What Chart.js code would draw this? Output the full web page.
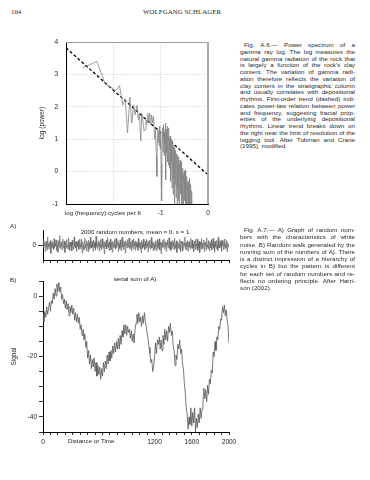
<!DOCTYPE html>
<html><head><meta charset="utf-8">
<script src="https://cdn.jsdelivr.net/npm/chart.js@4.4.1/dist/chart.umd.min.js"></script>
<style>
html,body{margin:0;padding:0;background:#fff;}
body{width:370px;height:480px;position:relative;overflow:hidden;font-family:'Liberation Sans',Arial,sans-serif;color:#222;-webkit-font-smoothing:antialiased;}
.abs{position:absolute;white-space:nowrap;line-height:1;}
canvas{position:absolute;}
.serif{font-family:'Liberation Serif','DejaVu Serif',serif;font-size:6.8px;color:#222;}
.lbl{font-size:6.2px;color:#222;}
.cap{position:absolute;left:240px;width:115px;font-size:6.25px;color:#2a2a2a;}
.cap div{text-align:justify;text-align-last:justify;white-space:nowrap;overflow:visible;}
.cap div.last{text-align:left;text-align-last:left;}
.cap div.first{padding-left:4px;}
</style>
</head><body>
<div class="abs serif" style="left:11px;top:9px;">164</div>
<div class="abs serif" style="left:143px;top:9px;letter-spacing:0.1px;">WOLFGANG SCHLAGER</div>

<canvas id="c1" width="195" height="195" style="left:30px;top:30px;"></canvas>
<div class="abs lbl" style="left:65px;top:210px;">log (frequency) cycles per ft</div>

<div class="cap" id="cap1" style="top:42px;line-height:6.75px;"></div>

<div class="abs lbl" style="left:10px;top:223px;">A)</div>
<canvas id="c2" width="245" height="48" style="left:0px;top:220px;"></canvas>
<div class="abs lbl" style="left:135px;top:229px;transform:translateX(-50%);">2000 random numbers, mean = 0, s = 1</div>

<div class="cap" id="cap2" style="top:226px;line-height:7.3px;"></div>

<div class="abs lbl" style="left:10px;top:277px;">B)</div>
<div class="abs lbl" style="left:135px;top:276px;transform:translateX(-50%);">serial sum of A)</div>
<canvas id="c3" width="245" height="180" style="left:0px;top:270px;"></canvas>
<div class="abs lbl" style="left:68px;top:438px;">Distance or Time</div>

<script>
// ---------- captions ----------
const caption1 = [
"Fig. A.6.\u2014 Power spectrum of a",
"gamma ray log. The log measures the",
"natural gamma radiation of the rock that",
"is largely a function of the rock's clay",
"content. The variation of gamma radi-",
"ation therefore reflects the variation of",
"clay content in the stratigraphic column",
"and usually correlates with depositional",
"rhythms. First-order trend (dashed) indi-",
"cates power-law relation between power",
"and frequency, suggesting fractal prop-",
"erties of the underlying depositional",
"rhythms. Linear trend breaks down on",
"the right near the limit of resolution of the",
"logging tool. After Tubman and Crane",
"(1995), modified."];
const caption2 = [
"Fig. A.7.\u2014 A) Graph of random num-",
"bers with the characteristics of white",
"noise. B) Random walk generated by the",
"running sum of the numbers of A). There",
"is a distinct impression of a hierarchy of",
"cycles in B) but the pattern is different",
"for each set of random numbers and re-",
"flects no ordering principle. After Harri-",
"son (2002)."];
function fillCap(id, lines){
  const el = document.getElementById(id);
  lines.forEach((t,i)=>{const d=document.createElement('div');d.textContent=t;
    if(i===0)d.className='first'; if(i===lines.length-1)d.className='last'; el.appendChild(d);});
}
fillCap('cap1',caption1); fillCap('cap2',caption2);

// ---------- data: Fig A.6 power spectrum (log frequency, log power) ----------
const spectrum = [
[-2.65,3.2],[-2.35,3.4],[-2.17,2.7],[-2.05,2.6],[-1.95,2.5],[-1.87,2.65],[-1.80,2.05],[-1.75,2.25],[-1.70,1.2],[-1.65,2.3],
[-1.61,1.5],[-1.57,2.05],[-1.54,1.75],[-1.50,2.05],[-1.47,1.6],[-1.45,1.8],[-1.42,0.95],[-1.40,1.8],[-1.37,1.5],[-1.35,1.25],
[-1.33,1.3],[-1.31,1.6],[-1.29,1.45],[-1.27,1.8],[-1.25,1.55],[-1.23,1.8],[-1.21,1.45],[-1.19,1.75],[-1.17,1.5],[-1.15,1.7],
[-1.13,1.0],[-1.11,1.3],[-1.09,0.45],[-1.08,-0.15],[-1.07,1.1],[-1.06,1.35],[-1.05,0.9],[-1.04,1.2],[-1.03,0.8],[-1.02,1.4],
[-1.01,0.7],[-1.00,1.25],[-0.99,0.2],[-0.98,-0.9],[-0.97,1.0],[-0.96,1.35],[-0.95,0.6],[-0.945,1.15],[-0.94,0.9],[-0.93,1.45],
[-0.925,0.5],[-0.92,1.2],[-0.91,0.85],[-0.905,1.3],[-0.90,0.7],[-0.895,1.5],[-0.89,-0.25],[-0.885,1.0],[-0.88,1.3],[-0.875,0.6],
[-0.87,1.1],[-0.865,0.8],[-0.86,1.4],[-0.855,0.3],[-0.85,1.0],[-0.845,0.65],[-0.84,1.2],[-0.835,0.2],[-0.83,0.9],[-0.825,1.35],
[-0.82,0.5],[-0.815,0.95],[-0.81,0.1],[-0.805,0.8],[-0.80,1.1],[-0.795,0.4],[-0.79,0.9],[-0.785,-0.3],[-0.78,0.7],[-0.775,1.0],
[-0.77,0.3],[-0.765,0.85],[-0.76,-0.5],[-0.755,0.6],[-0.75,0.95],[-0.745,0.1],[-0.74,0.7],[-0.735,-0.7],[-0.73,0.5],[-0.725,0.8],
[-0.72,-0.2],[-0.715,0.6],[-0.71,-1.0],[-0.705,0.4],[-0.70,0.75],[-0.695,-0.4],[-0.69,0.5],[-0.685,0.1],[-0.68,0.65],[-0.675,-0.8],
[-0.67,0.3],[-0.665,0.55],[-0.66,-0.3],[-0.655,0.45],[-0.65,-1.1],[-0.645,0.2],[-0.64,0.5],[-0.635,-0.5],[-0.63,0.3],[-0.625,-0.9],
[-0.62,0.1],[-0.615,0.45],[-0.61,-0.6],[-0.605,0.2],[-0.60,-1.1],[-0.595,0.0],[-0.59,0.35],[-0.585,-0.7],[-0.58,0.1],[-0.575,-0.3],
[-0.57,0.3],[-0.565,-1.0],[-0.56,-0.1],[-0.555,0.2],[-0.55,-0.8],[-0.545,0.0],[-0.54,-1.1],[-0.535,-0.2],[-0.53,0.1],[-0.525,-0.6],
[-0.52,-0.1],[-0.515,-1.1],[-0.51,-0.3],[-0.505,0.0],[-0.50,-0.9],[-0.495,-0.2],[-0.49,-0.6],[-0.485,0.05],[-0.48,-1.1],[-0.475,-0.4],
[-0.47,-0.1],[-0.465,-0.8],[-0.46,-0.3],[-0.455,-1.1],[-0.45,-0.5],[-0.445,-0.15],[-0.44,-0.9],[-0.435,-0.4],[-0.43,-1.1],[-0.425,-0.6],
[-0.42,-0.3],[-0.415,-1.0],[-0.41,-0.5],[-0.405,-0.8],[-0.40,-0.35],[-0.395,-1.1],[-0.39,-0.6],[-0.385,-0.2],[-0.38,-0.9],[-0.375,-0.5],
[-0.37,-1.1],[-0.365,-0.7],[-0.36,-0.4],[-0.355,-1.0],[-0.35,-0.6],[-0.345,-1.1],[-0.34,-0.8],[-0.335,-1.2]];
const trendLogFreq = [-3, 0];
const trendLogPower = [3.82, -0.1];
const specXTickLabels = {"-1":"-1","0":"0"};

// ---------- data: Fig A.7 A) random numbers (sampled every 5) ----------
const noiseStep = 5;
const noise = [
0.6,-1.1,1.9,-0.4,0.8,-2.2,0.3,1.3,-0.9,-1.7,2.6,-0.6,0.4,-1.3,1.0,-0.2,1.5,-2.8,0.7,-0.5,
-1.0,1.2,0.1,-1.5,2.1,-0.8,0.5,-0.3,1.7,-1.9,0.9,-0.1,-2.4,1.4,0.2,-0.7,3.1,-1.2,0.6,-0.4,
1.1,-1.6,0.3,2.0,-0.9,-0.2,1.3,-2.5,0.8,0.4,-1.1,1.8,-0.6,0.0,-1.4,2.3,-0.3,0.7,-1.8,1.0,
-0.5,0.9,-2.0,1.6,0.2,-0.8,-1.3,2.7,-0.4,0.5,-1.0,1.2,-2.2,0.3,0.9,-0.6,1.5,-1.5,0.1,2.0,
-1.2,0.4,-0.7,1.9,-2.6,0.6,1.1,-0.3,-1.6,0.8,2.2,-0.9,0.3,-1.9,1.4,-0.1,0.7,-2.3,1.6,-0.4,
0.9,-1.4,2.5,-0.7,0.1,-1.0,1.3,-0.5,-2.1,1.7,0.4,-0.8,1.0,-1.7,2.9,-0.6,0.2,-1.2,0.8,-0.3,
1.4,-2.0,0.6,-0.9,1.8,-0.2,-1.5,2.1,-0.7,0.5,-1.1,1.2,-3.0,0.9,0.3,-0.6,1.6,-1.3,0.0,2.4,
-0.8,0.7,-1.8,1.1,-0.4,2.0,-1.6,0.2,0.9,-2.4,1.3,-0.5,0.6,-1.0,1.9,-0.3,-1.4,2.2,-0.9,0.4,
-0.2,1.5,-2.1,0.8,0.3,-1.2,1.7,-0.6,-1.9,1.0,2.6,-0.8,0.1,-1.5,1.2,-0.4,0.9,-2.7,1.4,-0.1,
0.5,-1.0,1.8,-0.7,-0.3,2.3,-1.4,0.6,-0.9,1.1,-2.0,0.4,1.6,-0.5,-1.3,2.0,-0.2,0.8,-1.7,1.3,
-0.7,1.1,-0.3,0.6,-1.8,2.2,-0.9,0.2,1.0,-1.3,0.5,-2.6,1.5,-0.4,0.8,-1.1,2.0,-0.6,0.3,-1.6,
1.2,-0.2,-1.0,1.9,-0.5,0.7,-2.3,1.3,0.1,-0.8,1.6,-1.4,0.4,2.5,-1.0,-0.3,1.1,-1.9,0.6,-0.1,
-1.5,0.9,1.4,-0.6,-2.0,0.3,1.8,-1.2,0.5,-0.4,2.1,-1.7,0.0,1.0,-2.9,0.7,-0.2,1.5,-0.8,0.4,
2.0,-1.3,0.6,-0.5,1.2,-2.1,0.8,-0.1,1.7,-1.0,-0.6,2.4,-1.5,0.3,0.9,-1.8,1.1,-0.4,-1.2,1.6,
-0.3,0.8,-1.6,2.3,-0.7,0.2,-1.1,1.4,-2.5,0.6,1.0,-0.9,0.4,-1.4,1.9,-0.2,-2.2,1.2,0.5,-0.6,
1.3,-1.9,0.1,0.8,-0.4,2.7,-1.2,0.6,-1.7,1.0,-0.5,1.5,-2.0,0.2,1.1,-0.8,0.5,-1.3,2.2,-0.9,
-0.1,1.6,-1.1,0.4,-2.3,1.2,0.7,-0.6,1.9,-1.5,0.3,-0.2,2.0,-1.8,0.6,-1.0,1.3,-2.6,0.9,0.1,
-1.4,2.1,-0.5,0.7,-1.2,0.3,1.7,-2.2,0.8,-0.3,1.0,-1.6,2.4,-0.7,0.2,-1.3,1.5,-0.4,-2.0,1.1,
0.6,-0.9,1.8,-1.7,0.4,-0.1,2.2,-1.1,0.5,-2.4,1.3,-0.6,0.9,-1.2,1.6,-0.3,-1.8,2.6,-0.8,0.2,
-1.0,1.4,-0.4,0.9,-2.1,1.7,-0.2,0.6,-1.5,1.2,-0.7,2.0,-1.3,0.3,-0.9,1.5,-2.2,0.7,0.1,-0.5];

// ---------- data: Fig A.7 B) serial sum (sampled every 10) ----------
const walkStep = 10;
const walk = [
-6,-8.5,-5,-7,-3.5,-6,-4,-2,-5,-1.5,-2.5,1,-1,2.5,0,4,1.5,4.5,1.5,3,
-1,0.5,-2.5,-1,-4,-1.5,-4.5,-2.5,-6.5,-3.5,-5.5,-3,-6,-4,-8,-5.5,-8.5,-6,-9,-7,
-11,-9.5,-13,-11,-14.5,-12.5,-17,-15,-20.5,-18,-22.5,-19.5,-24,-21,-23.5,-20.5,-25,-22,-26.5,-23,
-26,-23.5,-27.5,-24,-26.5,-22,-25,-21.5,-24,-19.5,-22.5,-18.5,-21.5,-18,-20.5,-16.5,-19,-15.5,-18.5,-15,
-17.5,-14,-17.5,-13,-16,-11.5,-13.5,-9.5,-12.5,-9.5,-13,-10,-12,-11,-14,-11.5,-15,-12.5,-15.5,-11,
-9,-6,-9,-5.5,-8.5,-7,-10,-6.5,-9,-5.5,-8.5,-10,-12.5,-14,-17,-19,-22,-21,-25,-23.5,
-20,-15.5,-19,-14.5,-16,-13.5,-17.5,-14.5,-18,-13,-16,-11,-14.5,-11.5,-15,-10,-12,-9,-13,-11.5,
-16.5,-18,-23,-19.5,-21,-16,-17.5,-14.5,-19,-17.5,-22.5,-24,-29,-32,-37,-39,-44,-40,-42.5,-37,
-43,-38.5,-42,-37,-45,-40.5,-43.5,-39,-42,-37,-40.5,-37.5,-35,-30.5,-34,-31,-35,-29.5,-32.5,-27.5,
-29,-24.5,-25.5,-18.5,-20,-15,-18,-13.5,-14.5,-10,-11,-7.5,-8,-3.5,-5.5,-3,-6.5,-4.5,-8,-10,
-15.5];
const xLabelsB = [0, 1200, 1600, 2000];
const yLabelsB = [0, -20, -40];

// ---------- common helpers ----------
const FONT = {family:"'Liberation Sans', Arial, sans-serif", size:6.5};
Chart.defaults.font.family = FONT.family;
Chart.defaults.color = '#222';
function fixY(w){return s=>{s.width=w;s.paddingTop=0;s.paddingBottom=0;};}
function fixX(h){return s=>{s.height=h;s.paddingLeft=0;s.paddingRight=0;};}

const framePlugin = {id:'frame', afterDatasetsDraw(chart){
  const {ctx, chartArea:a} = chart;
  ctx.save();
  ctx.strokeStyle='#9a9a9a'; ctx.lineWidth=1;
  ctx.beginPath(); ctx.moveTo(a.left,a.top+0.5); ctx.lineTo(a.right,a.top+0.5); ctx.stroke();
  ctx.strokeStyle='#aaa'; ctx.lineWidth=2;
  ctx.beginPath(); ctx.moveTo(a.right,a.top); ctx.lineTo(a.right,a.bottom); ctx.stroke();
  ctx.restore();
}};

// ---------- Chart 1 ----------
new Chart(document.getElementById('c1'), {
  type:'line',
  data:{datasets:[
    {data: spectrum.map(p=>({x:p[0],y:p[1]})), borderColor:'#858585', borderWidth:0.8, pointRadius:0, tension:0},
    {data: trendLogFreq.map((x,i)=>({x, y:trendLogPower[i]})), borderColor:'#000', borderWidth:1.3, borderDash:[3,2.2], pointRadius:0}
  ]},
  options:{
    responsive:false, animation:false, devicePixelRatio:1,
    layout:{padding:{left:0,right:17,top:12,bottom:0}},
    plugins:{legend:{display:false},tooltip:{enabled:false}},
    scales:{
      x:{type:'linear',min:-3,max:0,afterFit:fixX(21),
        ticks:{stepSize:1,padding:5,font:FONT,color:'#222',maxRotation:0,autoSkip:false,
          callback:v=>specXTickLabels[String(v)]||''},
        grid:{drawTicks:false,lineWidth:0.8,color:c=>(c.tick&&(c.tick.value===-2||c.tick.value===-1))?'#c4c4c4':'rgba(0,0,0,0)'},
        border:{display:true,color:'#000',width:1,dash:[1,1.5]}},
      y:{type:'linear',min:-1,max:4,afterFit:fixY(36),
        ticks:{stepSize:1,padding:8,font:FONT,color:'#222'},
        title:{display:true,text:'log (power)',font:FONT,color:'#222',padding:{top:8,bottom:0}},
        grid:{drawTicks:false,lineWidth:0.8,color:c=>(c.tick&&c.tick.value>=0&&c.tick.value<=3)?'#c4c4c4':'rgba(0,0,0,0)'},
        border:{display:true,color:'#000',width:1,dash:[1,1.5]}}
    }
  },
  plugins:[framePlugin]
});

// ---------- Chart 2 (A) ----------
new Chart(document.getElementById('c2'), {
  type:'line',
  data:{datasets:[{data: noise.map((v,i)=>({x:i*noiseStep,y:v})), borderColor:'#6a6a6a', borderWidth:0.7, pointRadius:0, tension:0}]},
  options:{
    responsive:false, animation:false, devicePixelRatio:1,
    layout:{padding:{left:0,right:16,top:10,bottom:0}},
    plugins:{legend:{display:false},tooltip:{enabled:false}},
    scales:{
      x:{type:'linear',min:0,max:2000,afterFit:fixX(8),
        ticks:{stepSize:80,display:false,autoSkip:false},
        grid:{drawOnChartArea:false,drawTicks:true,tickLength:3,tickColor:'#000',tickWidth:0.8},
        border:{display:true,color:'#000',width:1}},
      y:{type:'linear',min:-5,max:5,afterFit:fixY(43),
        afterBuildTicks:s=>{s.ticks=[{value:0}];},
        ticks:{padding:2,font:FONT,color:'#222'},
        grid:{drawOnChartArea:false,drawTicks:true,tickLength:5,tickColor:'#000',tickWidth:0.8},
        border:{display:true,color:'#000',width:1}}
    }
  }
});

// ---------- Chart 3 (B) ----------
new Chart(document.getElementById('c3'), {
  type:'line',
  data:{datasets:[{data: walk.map((v,i)=>({x:i*walkStep,y:v})), borderColor:'#555', borderWidth:0.8, pointRadius:0, tension:0}]},
  options:{
    responsive:false, animation:false, devicePixelRatio:1,
    layout:{padding:{left:0,right:16,top:11,bottom:0}},
    plugins:{legend:{display:false},tooltip:{enabled:false}},
    scales:{
      x:{type:'linear',min:0,max:2000,afterFit:fixX(18),
        ticks:{stepSize:80,padding:3,font:FONT,color:'#222',maxRotation:0,autoSkip:false,
          callback:v=>xLabelsB.includes(v)?String(v):''},
        grid:{drawOnChartArea:false,drawTicks:true,tickLength:3,tickColor:'#000',tickWidth:0.8},
        border:{display:true,color:'#000',width:1}},
      y:{type:'linear',min:-45,max:5,afterFit:fixY(43),
        ticks:{stepSize:5,padding:2,font:FONT,color:'#222',autoSkip:false,
          callback:v=>yLabelsB.includes(v)?String(v):''},
        title:{display:true,text:'Signal',font:FONT,color:'#222',padding:{top:10,bottom:0}},
        grid:{drawOnChartArea:false,drawTicks:true,tickLength:4,tickColor:'#000',tickWidth:0.8},
        border:{display:true,color:'#000',width:1}}
    }
  }
});
</script>
</body></html>
